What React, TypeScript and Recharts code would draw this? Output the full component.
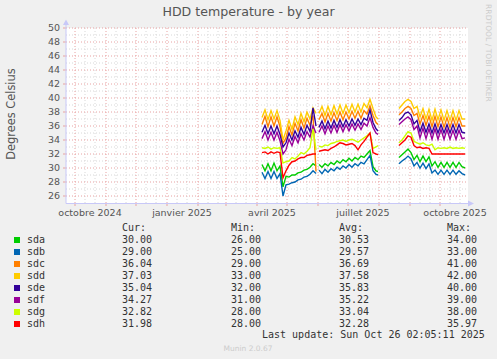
import { LineChart, Line, XAxis, YAxis, CartesianGrid } from "recharts";

// days counted from 1 Oct 2024; gaps in the record are null rows
const days = [
  187, 190, 193, 196, 199, 202, 205, 208, 211, 214, 217, 220, 223, 226, 229, 232, 235, 238, 241,
  242.5,
  244, 247, 250, 253, 256, 259, 262, 265, 268, 271, 274, 277, 280, 283, 286, 289, 292, 295, 298, 301, 303,
  313,
  324, 327, 330, 333, 336, 339, 342, 345, 348, 351, 354, 357, 360, 363, 366, 369, 372, 375, 378, 381, 384, 387, 390,
];

const seg = (a: number[], b: number[], c: number[]) => [...a, null, ...b, null, ...c];

const sda = seg(
  [30.5, 29.6, 30.6, 29.6, 30.7, 29.6, 30.3, 27.3, 28.8, 28.7, 29.0, 29.0, 29.3, 29.4, 29.7, 29.8, 30.1, 30.6, 30.3],
  [30.5, 30.1, 30.6, 30.3, 30.8, 30.5, 31.0, 30.7, 31.2, 30.9, 31.4, 31.0, 31.5, 31.2, 31.7, 31.5, 32.0, 32.5, 30.2, 29.6, 29.5],
  [31.5, 31.9, 32.3, 32.7, 32.2, 31.2, 31.8, 30.9, 31.7, 30.9, 31.6, 30.3, 30.9, 30.1, 30.8, 30.1, 30.8, 30.1, 30.8, 30.1, 30.8, 30.2, 30.0]
);
const sdb = seg(
  [29.4, 28.5, 29.5, 28.5, 29.5, 28.5, 29.2, 26.0, 27.6, 27.7, 27.9, 28.0, 28.3, 28.4, 28.7, 28.8, 29.1, 29.6, 29.2],
  [29.7, 29.2, 29.8, 29.4, 29.9, 29.6, 30.1, 29.8, 30.3, 30.0, 30.5, 30.1, 30.6, 30.3, 30.8, 30.6, 31.2, 31.8, 29.6, 29.1, 29.0],
  [30.6, 31.0, 31.3, 31.7, 31.3, 30.3, 30.8, 30.0, 30.7, 29.9, 30.6, 29.3, 29.7, 29.1, 29.7, 29.1, 29.7, 29.1, 29.7, 29.1, 29.6, 29.2, 29.0]
);
const sdc = seg(
  [36.2, 37.4, 35.9, 37.3, 36.0, 37.3, 35.9, 33.5, 34.3, 35.9, 34.7, 36.4, 35.3, 36.9, 35.7, 37.1, 36.1, 37.5, 29.5],
  [36.9, 37.8, 36.6, 37.8, 36.7, 37.9, 36.8, 38.0, 36.9, 38.0, 37.0, 38.1, 37.1, 38.1, 37.1, 38.2, 37.7, 38.9, 37.5, 36.5, 36.2],
  [37.6, 38.0, 38.5, 38.8, 38.5, 37.5, 37.8, 36.3, 37.5, 36.1, 37.4, 35.9, 37.4, 35.9, 37.3, 35.8, 37.2, 35.8, 37.2, 35.9, 37.2, 36.0, 36.0]
);
const sdd = seg(
  [37.2, 38.3, 36.9, 38.2, 37.0, 38.2, 36.8, 34.0, 35.3, 36.8, 35.5, 37.3, 36.2, 37.8, 36.6, 38.0, 37.0, 38.6, 37.8],
  [37.8, 38.8, 37.5, 38.8, 37.6, 38.9, 37.7, 39.0, 37.8, 39.0, 37.9, 39.1, 38.0, 39.1, 38.0, 39.2, 38.6, 39.8, 38.5, 37.3, 37.0],
  [38.5, 39.0, 39.5, 39.8, 39.5, 38.5, 38.8, 37.3, 38.5, 37.0, 38.4, 36.8, 38.4, 36.9, 38.3, 36.8, 38.2, 36.8, 38.2, 36.8, 38.2, 37.0, 37.0]
);
const sde = seg(
  [35.1, 36.1, 34.9, 36.0, 34.9, 36.0, 34.8, 33.0, 33.6, 35.0, 34.0, 35.3, 34.4, 35.8, 34.8, 36.1, 35.2, 38.6, 36.0],
  [35.8, 36.7, 35.6, 36.7, 35.7, 36.8, 35.8, 36.9, 35.9, 36.9, 36.0, 37.0, 36.1, 37.0, 36.2, 37.1, 36.8, 38.3, 36.5, 35.6, 35.3],
  [36.8, 37.2, 37.8, 38.0, 37.6, 36.3, 36.8, 35.2, 36.4, 35.1, 36.3, 35.0, 36.3, 35.0, 36.2, 35.0, 36.2, 35.0, 36.2, 35.0, 36.2, 35.1, 35.0]
);
const sdf = seg(
  [34.2, 35.2, 34.0, 35.1, 34.0, 35.1, 33.9, 32.0, 32.6, 34.1, 33.2, 34.5, 33.6, 34.9, 34.0, 35.2, 34.4, 36.0, 35.0],
  [35.1, 36.0, 34.9, 36.0, 35.0, 36.1, 35.1, 36.2, 35.2, 36.2, 35.3, 36.3, 35.4, 36.3, 35.5, 36.4, 36.0, 37.2, 35.8, 35.0, 34.8],
  [36.2, 36.6, 37.0, 37.3, 36.9, 35.5, 36.0, 34.3, 35.7, 34.2, 35.6, 34.1, 35.6, 34.1, 35.5, 34.1, 35.5, 34.1, 35.4, 34.1, 35.4, 34.2, 34.3]
);
const sdg = seg(
  [32.9, 32.8, 33.0, 32.7, 32.9, 32.8, 32.9, 30.7, 30.9, 31.0, 31.5, 31.3, 31.7, 32.2, 32.0, 32.4, 32.9, 35.6, 32.6],
  [33.1, 33.0, 33.3, 33.2, 33.5, 33.6, 33.8, 33.9, 34.0, 33.8, 34.0, 34.1, 33.9, 33.7, 34.0, 34.3, 34.6, 35.0, 32.8, 33.0, 33.2],
  [33.6, 34.0, 34.6, 35.2, 35.0, 33.8, 33.6, 33.4, 33.6, 33.3, 33.2, 33.4, 32.6, 32.9, 32.8, 32.9, 32.8, 33.0, 32.8, 32.9, 32.8, 32.9, 32.8]
);
const sdh = seg(
  [32.2, 32.3, 32.0, 32.3, 32.1, 32.3, 32.2, 28.6, 29.6, 30.4, 30.9, 31.0, 31.3, 31.5, 31.5, 31.8, 31.9, 32.0, 32.0],
  [32.4, 32.5, 32.6, 32.5, 32.8, 33.0, 33.3, 33.6, 33.5, 33.3, 33.4, 33.5, 33.2, 32.6, 33.3, 33.8, 34.4, 35.0, 32.2, 32.0, 31.9],
  [33.2, 33.6, 34.0, 34.6, 34.4, 33.2, 32.9, 33.0, 32.8, 32.9, 32.8, 32.0, 32.0, 32.0, 32.0, 32.0, 32.0, 32.0, 32.0, 32.0, 32.0, 32.0, 32.0]
);

const names = ["sda", "sdb", "sdc", "sdd", "sde", "sdf", "sdg", "sdh"];
const colors = ["#00cc00", "#0066b3", "#ff8000", "#ffcc00", "#330099", "#990099", "#ccff00", "#ff0000"];
const values = [sda, sdb, sdc, sdd, sde, sdf, sdg, sdh];

const cur = ["30.00", "29.00", "36.04", "37.03", "35.04", "34.27", "32.82", "31.98"];
const min = ["26.00", "25.00", "29.00", "33.00", "32.00", "31.00", "28.00", "28.00"];
const avg = ["30.53", "29.57", "36.69", "37.58", "35.83", "35.22", "33.04", "32.28"];
const max = ["34.00", "33.00", "41.00", "42.00", "40.00", "39.00", "38.00", "35.97"];

const monthStarts = [0, 31, 61, 92, 123, 151, 182, 212, 243, 273, 304, 335, 365];
const labelDays = [15, 107, 197, 288, 380];
const labels = ["octobre 2024", "janvier 2025", "avril 2025", "juillet 2025", "octobre 2025"];
const minorX = monthStarts.flatMap((m) => [m + 10, m + 20]);
const xTicks = [...monthStarts, ...labelDays].sort((a, b) => a - b);
const yTicks = [26, 28, 30, 32, 34, 36, 38, 40, 42, 44, 46, 48, 50];
const minorY = [27, 29, 31, 33, 35, 37, 39, 41, 43, 45, 47, 49];

const data = days.map((day, i) => {
  const row: Record<string, number | null> = { day };
  names.forEach((n, k) => (row[n] = values[k][i]));
  return row;
});

const sans = '"DejaVu Sans", sans-serif';
const mono = '"DejaVu Sans Mono", monospace';

function XTick(props: any) {
  const { x, y, payload } = props;
  const v = payload.value;
  const li = labelDays.indexOf(v);
  return (
    <g>
      {monthStarts.includes(v) && <line x1={x} x2={x} y1={y} y2={y + 3} stroke="#e8a2a2" />}
      {li >= 0 && (
        <text x={x} y={y + 13} textAnchor="middle" fontSize={9.5} fill="#555" fontFamily={sans}>
          {labels[li]}
        </text>
      )}
    </g>
  );
}

export default function App() {
  const txt = { position: "absolute" as const, fontFamily: mono, fontSize: 10, lineHeight: "12px", color: "#333", whiteSpace: "pre" as const };
  const cols = [122, 231, 339, 447];
  return (
    <div style={{ position: "absolute", left: 0, top: 0, width: 497, height: 359, background: "#f0f0f0", overflow: "hidden" }}>
      <LineChart width={497} height={359} data={data} margin={{ top: 28, right: 29, bottom: 136, left: 26 }}>
        <CartesianGrid fill="#fff" stroke="#d8d8d8" strokeDasharray="1 2" horizontalValues={minorY} verticalValues={minorX} />
        <CartesianGrid stroke="#e8a2a2" strokeDasharray="1 2" horizontalValues={yTicks} verticalValues={monthStarts} />
        <XAxis
          dataKey="day"
          type="number"
          domain={[-9, 393]}
          allowDataOverflow
          ticks={xTicks}
          interval={0}
          axisLine={false}
          tickLine={false}
          tickSize={0}
          tickMargin={0}
          height={20}
          tick={(p: any) => <XTick {...p} />}
        />
        <YAxis
          type="number"
          domain={[25, 50]}
          allowDataOverflow
          ticks={yTicks}
          interval={0}
          width={40}
          axisLine={false}
          tickLine={{ stroke: "#e8a2a2" }}
          tickSize={3}
          tickMargin={3}
          tick={{ fill: "#555", fontSize: 9.5, fontFamily: sans }}
        />
        {names.map((n, k) => (
          <Line
            key={n}
            dataKey={n}
            stroke={colors[k]}
            strokeWidth={1.4}
            dot={false}
            type="linear"
            connectNulls={false}
            isAnimationActive={false}
          />
        ))}
      </LineChart>

      <svg width={497} height={359} style={{ position: "absolute", left: 0, top: 0, pointerEvents: "none" }}>
        <line x1={66} y1={203.5} x2={66} y2={23} stroke="#c8c8f8" />
        <polygon points="63,25 69,25 66,19.5" fill="#c8c8f8" />
        <line x1={66} y1={203.5} x2={469} y2={203.5} stroke="#c8c8f8" />
        <polygon points="468,200.5 468,206.5 474,203.5" fill="#c8c8f8" />
        <text x={248.5} y={16} textAnchor="middle" fontSize={12.6} fill="#555" fontFamily={sans}>
          HDD temperature - by year
        </text>
        <text x={15} y={114} transform="rotate(-90 15 114)" textAnchor="middle" fontSize={11.4} fill="#555" fontFamily={sans}>
          Degrees Celsius
        </text>
        <text x={486} y={53} transform="rotate(90 486 53)" textAnchor="middle" fontSize={7.6} fill="#ccc" fontFamily={sans}>
          RRDTOOL / TOBI OETIKER
        </text>
        <text x={248} y={351} textAnchor="middle" fontSize={7.5} fill="#ccc" fontFamily={sans}>
          Munin 2.0.67
        </text>
      </svg>

      {["Cur:", "Min:", "Avg:", "Max:"].map((h, j) => (
        <div key={h} style={{ ...txt, left: cols[j], top: 222 }}>{h}</div>
      ))}
      {names.map((n, k) => (
        <div key={n}>
          <div style={{ position: "absolute", left: 14, top: 237 + k * 12, width: 6, height: 6, background: colors[k] }} />
          <div style={{ ...txt, left: 27, top: 234 + k * 12 }}>{n}</div>
          {[cur, min, avg, max].map((col, j) => (
            <div key={j} style={{ ...txt, left: cols[j], top: 234 + k * 12 }}>{col[k]}</div>
          ))}
        </div>
      ))}
      <div style={{ ...txt, left: 262, top: 329 }}>Last update: Sun Oct 26 02:05:11 2025</div>
    </div>
  );
}
